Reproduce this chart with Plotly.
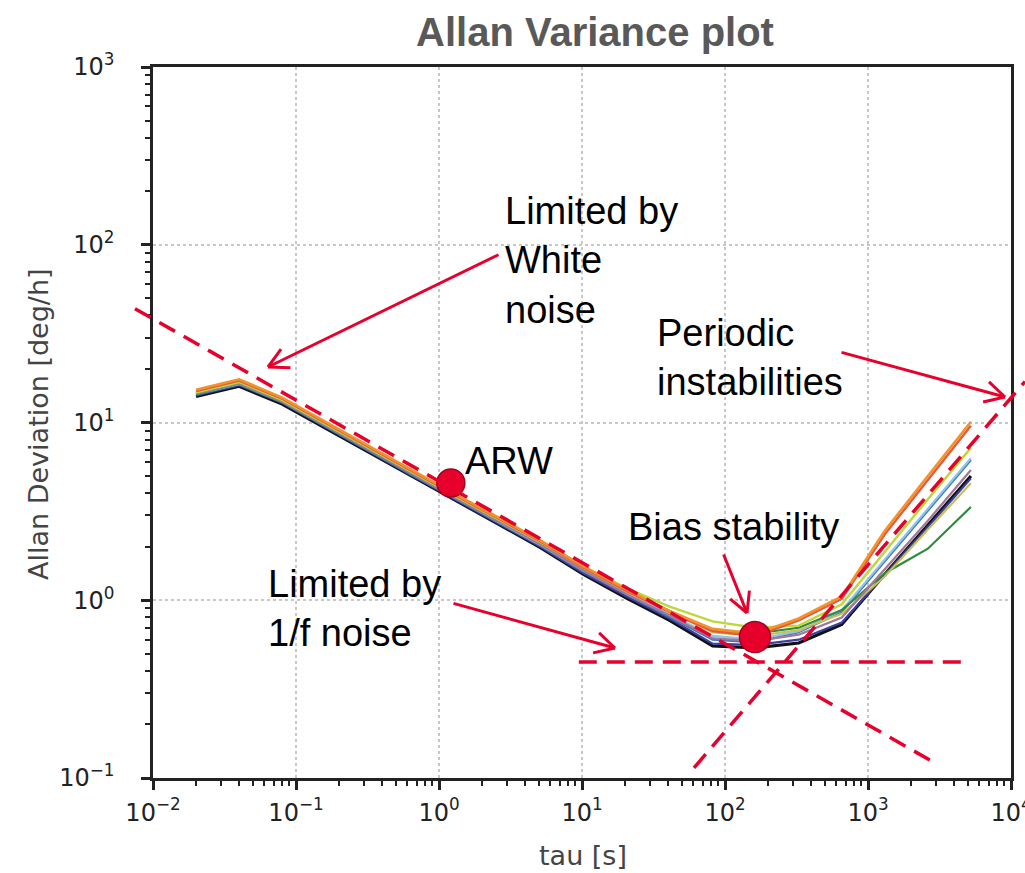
import math
import plotly.graph_objects as go

# ---------------- data ----------------
tau = [0.02, 0.04, 0.08, 0.16, 0.32, 0.64, 1.28, 2.56, 5.12, 10.24, 20.48,
       40.96, 81.92, 163.84, 327.68, 655.36, 1310.72, 2621.44, 5242.88]

dev_black = [14.0, 16.0, 12.7, 9.3, 6.8, 5.0, 3.68, 2.7, 1.98, 1.40, 1.03,
             0.77, 0.553, 0.54, 0.575, 0.73, 1.40, 2.65, 5.0]
dev_navy = [14.2, 16.2, 12.9, 9.4, 6.9, 5.05, 3.72, 2.73, 2.0, 1.42, 1.05,
            0.79, 0.57, 0.56, 0.60, 0.75, 1.39, 2.58, 4.85]
dev_blue = [14.4, 16.4, 13.0, 9.5, 7.0, 5.1, 3.76, 2.76, 2.03, 1.45, 1.08,
            0.81, 0.60, 0.58, 0.66, 0.86, 1.66, 3.16, 6.15]
dev_lightblue = [14.5, 16.5, 13.1, 9.6, 7.0, 5.15, 3.78, 2.78, 2.05, 1.47, 1.10,
                 0.83, 0.63, 0.60, 0.67, 0.88, 1.70, 3.25, 6.3]
dev_green = [14.5, 16.6, 13.1, 9.6, 7.05, 5.15, 3.8, 2.8, 2.08, 1.50, 1.13,
             0.87, 0.68, 0.65, 0.70, 0.88, 1.42, 1.95, 3.35]
dev_olive = [14.6, 16.7, 13.2, 9.7, 7.1, 5.2, 3.82, 2.82, 2.08, 1.50, 1.12,
             0.86, 0.66, 0.63, 0.68, 0.84, 1.36, 2.5, 4.55]
dev_purple = [14.6, 16.7, 13.2, 9.65, 7.05, 5.2, 3.8, 2.8, 2.06, 1.47, 1.08,
              0.82, 0.61, 0.59, 0.64, 0.80, 1.50, 2.8, 5.4]
dev_lime = [14.8, 16.9, 13.4, 9.8, 7.2, 5.28, 3.88, 2.86, 2.12, 1.54, 1.17,
            0.92, 0.76, 0.70, 0.72, 0.95, 1.88, 3.7, 7.2]
dev_red = [15.0, 17.2, 13.6, 9.95, 7.3, 5.35, 3.93, 2.9, 2.14, 1.53, 1.13,
           0.86, 0.67, 0.63, 0.77, 1.02, 2.35, 4.75, 9.6]
dev_orange = [15.3, 17.5, 13.8, 10.1, 7.4, 5.42, 3.98, 2.94, 2.17, 1.55, 1.15,
              0.87, 0.69, 0.65, 0.79, 1.05, 2.46, 5.0, 10.1]

# highlighted points (tau, deviation)
arw_point = [1.21, 4.57]
bias_point = [162.0, 0.621]

# guide lines (tau, deviation) end points
white_noise_tau = [0.00748, 2716.0]
white_noise_dev = [43.7, 0.126]
flicker_tau = [9.5, 4615.0]
flicker_dev = [0.45, 0.45]
periodic_tau = [60.7, 12530.0]
periodic_dev = [0.114, 17.0]

x_tick_vals = [0.01, 0.1, 1, 10, 100, 1000, 10000]
x_tick_text = ["10<sup>−2</sup>", "10<sup>−1</sup>", "10<sup>0</sup>", "10<sup>1</sup>",
               "10<sup>2</sup>", "10<sup>3</sup>", "10<sup>4</sup>"]
y_tick_vals = [0.1, 1, 10, 100, 1000]
y_tick_text = ["10<sup>−1</sup>", "10<sup>0</sup>", "10<sup>1</sup>",
               "10<sup>2</sup>", "10<sup>3</sup>"]

# ---------------- styling ----------------
W, H = 1025, 873
L, R, T, B = 153, 14, 67, 95
PW, PH = W - L - R, H - T - B
X_RANGE = (-2, 4)
Y_RANGE = (-1, 3)
RED = "#E8002D"
DARKRED = "#A3001E"
AX = "#222222"

series = [
    (dev_black, "#111111", 3.2),
    (dev_navy, "#3b3fa0", 2.2),
    (dev_blue, "#3f78b8", 2.2),
    (dev_lightblue, "#8cc4ea", 2.2),
    (dev_green, "#2f8a3c", 2.2),
    (dev_olive, "#c8bf55", 2.2),
    (dev_purple, "#a07898", 2.2),
    (dev_lime, "#bcd83a", 2.4),
    (dev_red, "#e8583a", 2.4),
    (dev_orange, "#f2922c", 2.6),
]

fig = go.Figure()
for vals, color, w in series:
    fig.add_trace(go.Scatter(x=tau, y=vals, mode="lines",
                             line=dict(color=color, width=w),
                             showlegend=False, hoverinfo="skip"))

fig.add_trace(go.Scatter(
    x=[arw_point[0], bias_point[0]], y=[arw_point[1], bias_point[1]],
    mode="markers",
    marker=dict(size=[28, 31], color=RED, opacity=1,
                line=dict(color=DARKRED, width=1.5)),
    showlegend=False, hoverinfo="skip"))


def xpap(t):
    return (math.log10(t) - X_RANGE[0]) / (X_RANGE[1] - X_RANGE[0])


def ypap(v):
    return (math.log10(v) - Y_RANGE[0]) / (Y_RANGE[1] - Y_RANGE[0])


def px(xp):
    return (xp - L) / PW


def py(yp):
    return (T + PH - yp) / PH


shapes = []
for ts, ds in [(white_noise_tau, white_noise_dev), (flicker_tau, flicker_dev),
               (periodic_tau, periodic_dev)]:
    shapes.append(dict(type="line", xref="paper", yref="paper",
                       x0=xpap(ts[0]), y0=ypap(ds[0]), x1=xpap(ts[1]), y1=ypap(ds[1]),
                       line=dict(color=RED, width=3.5, dash="18px,10px"), layer="above"))

annotations = []


def arrow(tail, head, wing=24, ang=28):
    hx, hy = head
    tx, ty = tail
    annotations.append(dict(xref="paper", yref="paper", x=px(hx), y=py(hy),
                            ax=tx - hx, ay=ty - hy, text="", showarrow=True,
                            arrowhead=0, arrowwidth=3, arrowcolor=RED,
                            standoff=0, startstandoff=0))
    d = math.hypot(tx - hx, ty - hy)
    ux, uy = (tx - hx) / d, (ty - hy) / d
    for s in (1, -1):
        a = math.radians(ang * s)
        wx = ux * math.cos(a) - uy * math.sin(a)
        wy = ux * math.sin(a) + uy * math.cos(a)
        annotations.append(dict(xref="paper", yref="paper", x=px(hx), y=py(hy),
                                ax=wx * wing, ay=wy * wing, text="", showarrow=True,
                                arrowhead=0, arrowwidth=3, arrowcolor=RED,
                                standoff=0, startstandoff=0))


arrow((500, 254), (268, 367))
arrow((840, 352), (1005, 397))
arrow((723, 553), (747, 613))
arrow((452, 603), (615, 648))

TXT = dict(family="Liberation Sans, Arial, sans-serif", size=38, color="#000000")
for text, xx, yy in [("Limited by<br>White<br>noise", 503, 260),
                     ("Periodic<br>instabilities", 655, 357),
                     ("ARW", 463, 461),
                     ("Bias stability", 626, 527),
                     ("Limited by<br>1/f noise", 266, 608)]:
    annotations.append(dict(xref="paper", yref="paper", x=px(xx), y=py(yy),
                            text=text, showarrow=False, xanchor="left",
                            yanchor="middle", align="left", font=TXT))

LAB = dict(family="DejaVu Sans, sans-serif", size=27, color="#444444")
annotations.append(dict(xref="paper", yref="paper", x=px(38), y=py(424),
                        text="Allan Deviation [deg/h]", textangle=-90,
                        showarrow=False, xanchor="center", yanchor="middle", font=LAB))
annotations.append(dict(xref="paper", yref="paper", x=px(583), y=py(855),
                        text="tau [s]", showarrow=False, xanchor="center",
                        yanchor="middle", font=LAB))

minor_x = [m * 10 ** k for k in range(-2, 4) for m in range(2, 10)]
minor_y = [m * 10 ** k for k in range(-1, 3) for m in range(2, 10)]

axis_common = dict(
    type="log", showline=True, linecolor=AX, linewidth=2.5, mirror=True,
    ticks="outside", ticklen=9, tickwidth=2.5, tickcolor=AX,
    showgrid=True, gridcolor="#c8c8c8", gridwidth=1.5, griddash="dot",
    zeroline=False, tickmode="array", ticklabeloverflow="allow", automargin=False,
    tickfont=dict(family="DejaVu Sans, sans-serif", size=24, color="#222222"),
)

fig.update_xaxes(range=list(X_RANGE), tickvals=x_tick_vals, ticktext=x_tick_text,
                 minor=dict(tickmode="array", tickvals=minor_x, ticks="outside",
                            ticklen=5, tickwidth=2, tickcolor=AX, showgrid=False),
                 ticklabelstandoff=2, **axis_common)
fig.update_yaxes(range=list(Y_RANGE), tickvals=y_tick_vals, ticktext=y_tick_text,
                 minor=dict(tickmode="array", tickvals=minor_y, ticks="outside",
                            ticklen=5, tickwidth=2, tickcolor=AX, showgrid=False),
                 ticklabelstandoff=22, **axis_common)

fig.update_layout(
    width=W, height=H,
    margin=dict(l=L, r=R, t=T, b=B, autoexpand=False),
    paper_bgcolor="white", plot_bgcolor="white",
    title=dict(text="<b>Allan Variance plot</b>", x=595 / W, xref="container",
               xanchor="center", y=1 - 32 / H, yanchor="middle",
               font=dict(family="Liberation Sans, Arial, sans-serif", size=40, color="#595959")),
    shapes=shapes, annotations=annotations,
    showlegend=False,
)

fig.write_html("out.html", config={"displayModeBar": False},
               post_script="document.body.style.margin='0';document.body.style.padding='0';")
